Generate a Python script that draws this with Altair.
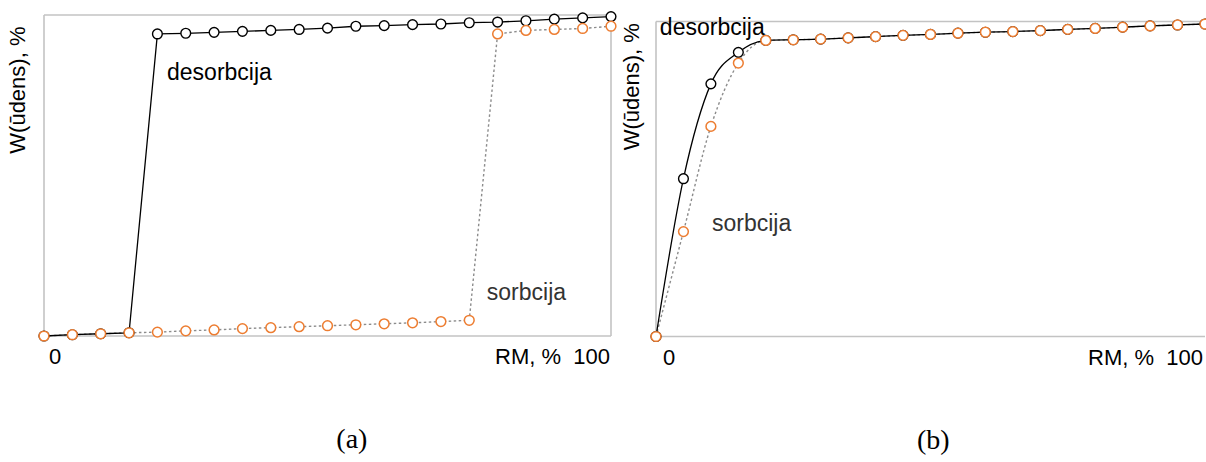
import altair as alt
import pandas as pd

# ---------------- data ----------------
RM = [0, 5, 10, 15, 20, 25, 30, 35, 40, 45, 50, 55, 60, 65, 70, 75, 80, 85, 90, 95, 100]

# panel (a)
A_DES = [0.0, 0.4, 0.7, 1.0, 94.1, 94.3, 94.6, 94.9, 95.2, 95.5, 95.9, 96.5, 96.7,
         97.0, 97.2, 97.6, 97.8, 98.2, 98.7, 99.1, 99.5]
A_SOR = [0.0, 0.4, 0.7, 1.0, 1.2, 1.6, 1.9, 2.3, 2.6, 2.9, 3.2, 3.5, 3.8,
         4.1, 4.5, 4.9, 94.1, 95.2, 95.5, 95.8, 96.5]

# panel (b)
B_DES = [0.0, 50.1, 80.2, 90.2, 94.0, 94.2, 94.4, 94.8, 95.2, 95.6, 95.9, 96.3, 96.6,
         96.8, 97.1, 97.5, 97.8, 98.2, 98.6, 98.9, 99.2]
B_SOR = [0.0, 33.3, 66.7, 86.8, 94.0, 94.2, 94.4, 94.8, 95.2, 95.6, 95.9, 96.3, 96.6,
         96.8, 97.1, 97.5, 97.8, 98.2, 98.6, 98.9, 99.2]

Y_TITLE = "W(ūdens), %"
X_ZERO = "0"
X_END = "RM, %\u00a0\u00a0100"
DES_LABEL = "desorbcija"
SOR_LABEL = "sorbcija"

ORANGE = "#ED7D31"
FRAME = "#C3C3C3"
GREY_LINE = "#8C8C8C"
FONT = "Liberation Sans"
SERIF = "Liberation Serif"


def panel(des, sor, xrange, yrange, ydomain, interp, frame_segs,
          des_at, sor_at, ytitle_at, zero_dx, end_dx, lab_dy, caption, caption_x):
    df = pd.DataFrame({"rm": RM, "des": des, "sor": sor})
    xs = alt.Scale(domain=[0, 100], range=xrange, nice=False, zero=False)
    ys = alt.Scale(domain=ydomain, range=yrange, nice=False, zero=False)

    def X(f):
        return alt.X(f, type="quantitative", scale=xs, axis=None)

    def Y(f):
        return alt.Y(f, type="quantitative", scale=ys, axis=None)

    base = alt.Chart(df)

    frame_df = pd.DataFrame(frame_segs, columns=["x", "x2", "y", "y2"])
    frame = alt.Chart(frame_df).mark_rule(color=FRAME, strokeWidth=1.6).encode(
        x=X("x"), x2="x2", y=Y("y"), y2="y2")

    sor_line = base.mark_line(color=GREY_LINE, strokeDash=[2.5, 2.5], strokeWidth=1.4,
                              interpolate=interp).encode(x=X("rm"), y=Y("sor"))
    des_line = base.mark_line(color="black", strokeWidth=1.3,
                              interpolate=interp).encode(x=X("rm"), y=Y("des"))
    des_pts = base.mark_circle(fill="white", stroke="black", strokeWidth=1.4,
                               size=95, opacity=1).encode(x=X("rm"), y=Y("des"))
    sor_pts = base.mark_circle(fill="white", stroke=ORANGE, strokeWidth=1.5,
                               size=95, opacity=1).encode(x=X("rm"), y=Y("sor"))

    ann = pd.DataFrame({"x": [des_at[0], sor_at[0]], "y": [des_at[1], sor_at[1]],
                        "t": [DES_LABEL, SOR_LABEL], "c": ["#000000", "#333333"]})
    ann_txt = alt.Chart(ann).mark_text(font=FONT, fontSize=23, align="left",
                                       baseline="middle").encode(
        x=X("x"), y=Y("y"), text="t:N", color=alt.Color("c:N", scale=None))

    yt = pd.DataFrame({"x": [ytitle_at[0]], "y": [ytitle_at[1]], "t": [Y_TITLE]})
    ytitle = alt.Chart(yt).mark_text(font=FONT, fontSize=22, angle=270, align="center",
                                     baseline="middle", color="black").encode(
        x=X("x"), y=Y("y"), text="t:N")

    z = pd.DataFrame({"x": [0], "y": [0], "t": [X_ZERO]})
    zero_lab = alt.Chart(z).mark_text(font=FONT, fontSize=22, align="center",
                                      baseline="middle", dx=zero_dx, dy=lab_dy,
                                      color="black").encode(x=X("x"), y=Y("y"), text="t:N")
    e = pd.DataFrame({"x": [100], "y": [0], "t": [X_END]})
    end_lab = alt.Chart(e).mark_text(font=FONT, fontSize=22, align="right",
                                     baseline="middle", dx=end_dx, dy=lab_dy,
                                     color="black").encode(x=X("x"), y=Y("y"), text="t:N")

    c = pd.DataFrame({"x": [caption_x], "y": [0], "t": [caption]})
    cap = alt.Chart(c).mark_text(font=SERIF, fontSize=28, align="center",
                                 baseline="middle", dy=104, color="black").encode(
        x=X("x"), y=Y("y"), text="t:N")

    return alt.layer(frame, sor_line, des_line, des_pts, sor_pts,
                     ann_txt, ytitle, zero_lab, end_lab, cap)


left = panel(A_DES, A_SOR, xrange=[44, 611], yrange=[336, 15], ydomain=[0, 100],
             interp="linear",
             frame_segs=[[0, 100, 100, 100], [0, 100, 0, 0], [0, 0, 0, 100], [100, 100, 0, 100]],
             des_at=(21.7, 81.9), sor_at=(78.1, 13.4), ytitle_at=(-4.6, 76.6),
             zero_dx=11, end_dx=-1, lab_dy=21, caption="(a)", caption_x=54.3)

right = panel(B_DES, B_SOR, xrange=[656, 1205], yrange=[336.5, 21.5], ydomain=[0, 100],
              interp="monotone",
              frame_segs=[[0, 100, 100, 100], [0, 100, 0, 0], [0, 0, 0, 100]],
              des_at=(0.7, 98.0), sor_at=(10.2, 35.6), ytitle_at=(-4.4, 79.3),
              zero_dx=13, end_dx=-2, lab_dy=21, caption="(b)", caption_x=50.5)

chart = alt.layer(left, right).resolve_scale(
    x="independent", y="independent", color="independent"
).properties(
    width=1206, height=462,
    autosize=alt.AutoSizeParams(type="none"),
    padding=0,
    background="white",
).configure_view(stroke=None)

chart.save("out.html", embed_options={"renderer": "svg", "actions": False})
